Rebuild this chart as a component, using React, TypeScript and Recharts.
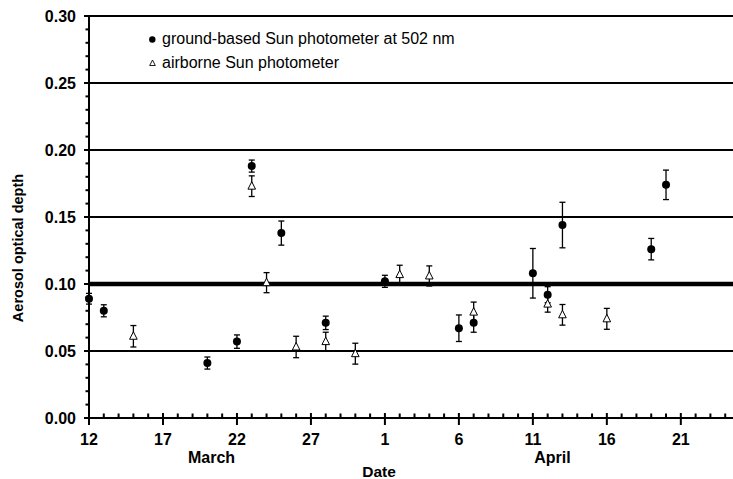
import React from 'react';
import { ScatterChart, Scatter, XAxis, YAxis, ErrorBar, ReferenceLine } from 'recharts';

// days since 12 March
const groundDays = [0, 1, 8, 10, 11, 13, 16, 20, 25, 26, 30, 31, 32, 38, 39];
const groundAod = [0.089, 0.080, 0.041, 0.057, 0.188, 0.138, 0.071, 0.102, 0.067, 0.071, 0.108, 0.092, 0.144, 0.126, 0.174];
const groundErr = [0.004, 0.0045, 0.0045, 0.005, 0.0045, 0.009, 0.005, 0.0045, 0.0099, 0.007, 0.0185, 0.006, 0.017, 0.008, 0.011];

const airDays = [3, 11, 12, 14, 16, 18, 21, 23, 26, 31, 32, 35];
const airAod = [0.061, 0.173, 0.101, 0.053, 0.057, 0.048, 0.107, 0.106, 0.079, 0.085, 0.077, 0.074];
const airErr = [0.008, 0.0077, 0.0075, 0.008, 0.007, 0.0078, 0.007, 0.0075, 0.0075, 0.006, 0.0077, 0.0078];

const xMajorTicks = [0, 5, 10, 15, 20, 25, 30, 35, 40];
const xMajorLabels = ['12', '17', '22', '27', '1', '6', '11', '16', '21'];
const yMajorTicks = [0, 0.05, 0.1, 0.15, 0.2, 0.25, 0.3];
const yMajorLabels = ['0.00', '0.05', '0.10', '0.15', '0.20', '0.25', '0.30'];
const gridLines = [0.05, 0.15, 0.2, 0.25, 0.3];
const thickLine = 0.1;

const monthLabels = ['March', 'April'];
const legendLabels = ['ground-based Sun photometer at 502 nm', 'airborne Sun photometer'];

const groundData = groundDays.map((d, i) => ({ d, v: groundAod[i], e: groundErr[i] }));
const airData = airDays.map((d, i) => ({ d, v: airAod[i], e: airErr[i] }));

const xTicks = Array.from({ length: 45 }, (_, i) => i);
const yTicks = Array.from({ length: 31 }, (_, i) => i / 100);

const FONT = '"Liberation Sans", Arial, Helvetica, sans-serif';

const XTick = (props: any) => {
  const { x, y, payload } = props;
  const idx = xMajorTicks.indexOf(payload.value);
  if (idx >= 0) {
    return (
      <g>
        <line x1={x} x2={x} y1={y - 5} y2={y + 7} stroke="#000" strokeWidth={2} />
        <text x={x} y={y + 27} textAnchor="middle" fontFamily={FONT} fontWeight="bold" fontSize={16} fill="#000">
          {xMajorLabels[idx]}
        </text>
      </g>
    );
  }
  return <line x1={x} x2={x} y1={y - 4.5} y2={y} stroke="#000" strokeWidth={2} />;
};

const YTick = (props: any) => {
  const { x, y, payload } = props;
  const idx = yMajorTicks.findIndex((t) => Math.abs(t - payload.value) < 1e-6);
  if (idx >= 0) {
    return (
      <g>
        <line x1={x - 5} x2={x} y1={y} y2={y} stroke="#000" strokeWidth={2} />
        <text x={x - 13} y={y + 5.7} textAnchor="end" fontFamily={FONT} fontWeight="bold" fontSize={16} fill="#000">
          {yMajorLabels[idx]}
        </text>
      </g>
    );
  }
  return <line x1={x - 3.5} x2={x} y1={y} y2={y} stroke="#000" strokeWidth={2} />;
};

const Dot = (props: any) => {
  const { cx, cy } = props;
  return <circle cx={cx} cy={cy} r={4} fill="#000" />;
};

const Tri = (props: any) => {
  const { cx, cy } = props;
  return (
    <polygon
      points={`${cx},${cy - 4.5} ${cx - 3.8},${cy + 3} ${cx + 3.8},${cy + 3}`}
      fill="#fff"
      stroke="#000"
      strokeWidth={1}
    />
  );
};

export default function App() {
  return (
    <div style={{ position: 'absolute', left: 0, top: 0, width: 733, height: 479, overflow: 'hidden', background: '#fff' }}>
      <ScatterChart width={740} height={479} margin={{ top: 16, right: 0, bottom: 0, left: 0 }}>
        <XAxis
          type="number"
          dataKey="d"
          domain={[0, 44]}
          ticks={xTicks}
          interval={0}
          tick={<XTick />}
          tickLine={false}
          tickSize={0}
          tickMargin={0}
          height={61}
          axisLine={{ stroke: '#000', strokeWidth: 2 }}
        />
        <YAxis
          type="number"
          dataKey="v"
          domain={[0, 0.3]}
          ticks={yTicks}
          interval={0}
          tick={<YTick />}
          tickLine={false}
          tickSize={0}
          tickMargin={0}
          width={89}
          axisLine={{ stroke: '#000', strokeWidth: 2 }}
        />
        {gridLines.map((g) => (
          <ReferenceLine key={g} y={g} stroke="#000" strokeWidth={2} />
        ))}
        <ReferenceLine y={thickLine} stroke="#000" strokeWidth={4.5} />
        <Scatter data={groundData} shape={<Dot />} isAnimationActive={false}>
          <ErrorBar dataKey="e" direction="y" width={3} stroke="#000" strokeWidth={1.3} />
        </Scatter>
        <Scatter data={airData} shape={<Tri />} isAnimationActive={false}>
          <ErrorBar dataKey="e" direction="y" width={3} stroke="#000" strokeWidth={1.3} />
        </Scatter>
      </ScatterChart>
      <svg width={733} height={479} style={{ position: 'absolute', left: 0, top: 0, pointerEvents: 'none' }}>
        <text
          transform="translate(23,248) rotate(-90)"
          textAnchor="middle"
          fontFamily={FONT}
          fontWeight="bold"
          fontSize={14.5}
          fill="#000"
        >
          Aerosol optical depth
        </text>
        <text x={211.5} y={462.5} textAnchor="middle" fontFamily={FONT} fontWeight="bold" fontSize={16} fill="#000">
          {monthLabels[0]}
        </text>
        <text x={552.5} y={462.5} textAnchor="middle" fontFamily={FONT} fontWeight="bold" fontSize={16} fill="#000">
          {monthLabels[1]}
        </text>
        <text x={379} y={476.5} textAnchor="middle" fontFamily={FONT} fontWeight="bold" fontSize={15.5} fill="#000">
          Date
        </text>
        <circle cx={152.3} cy={39.5} r={3.2} fill="#000" />
        <text x={162} y={43.5} fontFamily={FONT} fontSize={16} fill="#000">
          {legendLabels[0]}
        </text>
        <polygon points="152.5,60 149.7,65.5 155.3,65.5" fill="#fff" stroke="#000" strokeWidth={0.9} />
        <text x={162} y={67.7} fontFamily={FONT} fontSize={16} fill="#000">
          {legendLabels[1]}
        </text>
      </svg>
    </div>
  );
}
